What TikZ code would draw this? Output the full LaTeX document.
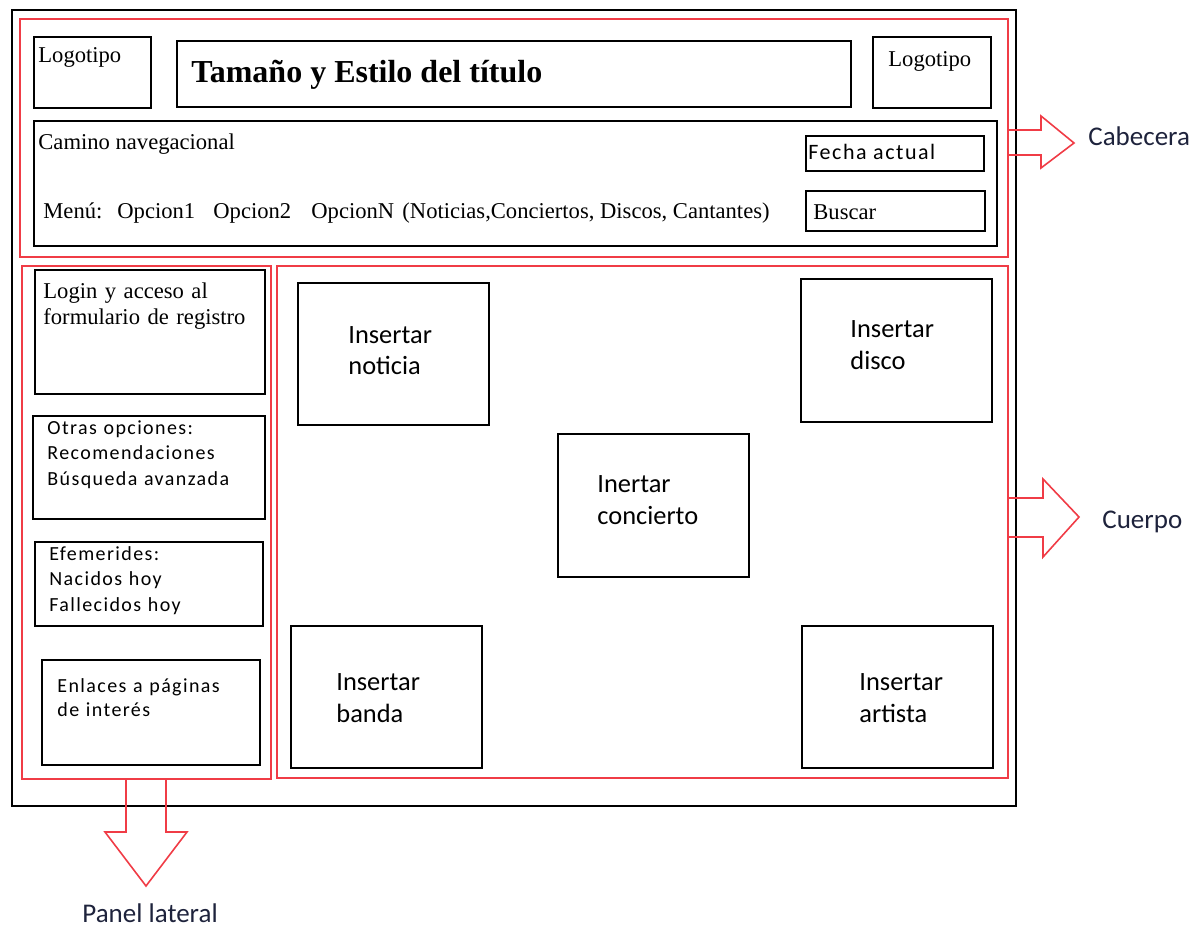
\documentclass[tikz,border=0pt]{standalone}
\usepackage{fontspec}
\setmainfont{Liberation Serif}
\newfontfamily\calibrifont{Carlito}
\newfontfamily\spacedfont[LetterSpace=7]{Carlito}
\usetikzlibrary{fit}
\definecolor{zonered}{RGB}{240,60,70}
\definecolor{labelblue}{RGB}{30,35,60}

\begin{document}
\begin{tikzpicture}[
    x=0.5pt, y=-0.5pt,
    box/.style={draw, line width=1pt, inner sep=0pt},
    zone/.style={draw=zonered, line width=0.8pt, inner sep=0pt},
    serif/.style={anchor=base west, inner sep=0pt, align=left, font=\fontsize{11.3}{13}\selectfont},
    spaced/.style={anchor=base west, inner sep=0pt, align=left, font=\spacedfont\fontsize{10}{12.75}\selectfont},
    insert/.style={anchor=base west, inner sep=0pt, align=left, font=\calibrifont\fontsize{13.2}{16}\selectfont},
    zonelabel/.style={anchor=base west, inner sep=0pt, text=labelblue, font=\calibrifont\fontsize{13.5}{16}\selectfont}
]
    \useasboundingbox (0,0) rectangle (1202,930);

    % Marco de la pagina
    \node[box, fit={(12,10) (1016,806)}] (page) {};

    % Zonas
    \node[zone, fit={(20,19) (1008,257)}] (head) {};
    \node[zone, fit={(22,266) (271,779)}] (side) {};
    \node[zone, fit={(277,266) (1008,778)}] (body) {};

    % Cabecera
    \node[box, fit={(34,37) (151,108)}] (logoL) {};
    \node[serif] (logoLtxt) at (38,63) {Logotipo};
    \node[box, fit={(177,41) (851,107)}] (title) {};
    \node[anchor=base west, inner sep=0pt, font=\fontsize{16}{19}\selectfont\bfseries] (titletxt) at (191,83) {Tamaño y Estilo del título};
    \node[box, fit={(873,37) (991,108)}] (logoR) {};
    \node[serif] (logoRtxt) at (888,67) {Logotipo};

    \node[box, fit={(34,121) (997,246)}] (nav) {};
    \node[serif] (camino) at (38,150) {Camino navegacional};
    \node[serif] (menu) at (43,219) {Menú:};
    \node[serif] (op1) at (117,219) {Opcion1};
    \node[serif] (op2) at (213,219) {Opcion2};
    \node[serif] (opN) at (311,219) {OpcionN};
    \node[serif] (cats) at (402,219) {(Noticias,Conciertos, Discos, Cantantes)};
    \node[box, fit={(806,136) (984,171)}] (fecha) {};
    \node[anchor=base west, inner sep=0pt, font=\spacedfont\fontsize{11}{13}\selectfont] (fechatxt) at (808,160) {Fecha actual};
    \node[box, fit={(806,191) (985,231)}] (buscar) {};
    \node[serif] (buscartxt) at (813,220) {Buscar};

    % Panel lateral
    \node[box, fit={(35,270) (265,394)}] (login) {};
    \node[serif, text width=120pt] (logintxt) at (43,299) {Login y acceso al\\formulario de registro};
    \node[box, fit={(33,416) (265,519)}] (otras) {};
    \node[spaced, text width=120pt] (otrastxt) at (47,434) {Otras opciones:\\Recomendaciones\\Búsqueda avanzada};
    \node[box, fit={(35,542) (263,626)}] (efem) {};
    \node[spaced, text width=120pt] (efemtxt) at (49,560) {Efemerides:\\Nacidos hoy\\Fallecidos hoy};
    \node[box, fit={(42,660) (260,765)}] (enlaces) {};
    \node[spaced, text width=120pt, font=\spacedfont\fontsize{10}{12}\selectfont] (enlacestxt) at (57,692) {Enlaces a páginas\\de interés};

    % Cuerpo
    \node[box, fit={(298,283) (489,425)}] (noticia) {};
    \node[insert, text width=80pt] (noticiatxt) at (348,343) {Insertar\\noticia};
    \node[box, fit={(801,279) (992,422)}] (disco) {};
    \node[insert, text width=80pt] (discotxt) at (850,337) {Insertar\\disco};
    \node[box, fit={(558,434) (749,577)}] (concierto) {};
    \node[insert, text width=80pt] (conciertotxt) at (597,492) {Inertar\\concierto};
    \node[box, fit={(291,626) (482,768)}] (banda) {};
    \node[insert, text width=80pt] (bandatxt) at (336,690) {Insertar\\banda};
    \node[box, fit={(802,626) (993,768)}] (artista) {};
    \node[insert, text width=80pt] (artistatxt) at (859,690) {Insertar\\artista};

    % Flechas de zona
    \draw[zone] (head.east |- 0,130) -- (1041,130) -- (1041,116) -- (1074,143)
        -- (1041,168) -- (1041,155) -- (head.east |- 0,155);
    \node[zonelabel] (cabecera) at (1088,146) {Cabecera};

    \draw[zone] (body.east |- 0,498) -- (1043,498) -- (1043,479) -- (1079,517)
        -- (1043,557) -- (1043,537) -- (body.east |- 0,537);
    \node[zonelabel] (cuerpo) at (1102,528) {Cuerpo};

    \draw[zone] (side.south -| 126,0) -- (126,832) -- (105,832) -- (146,886)
        -- (187,832) -- (166,832) -- (side.south -| 166,0);
    \node[zonelabel] (lateral) at (82,922) {Panel lateral};

\end{tikzpicture}
\end{document}
